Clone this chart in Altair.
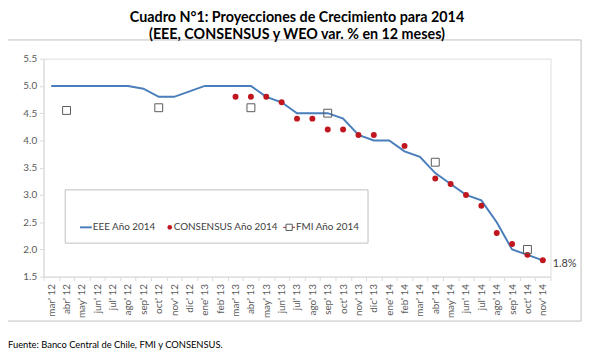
import altair as alt
import pandas as pd

months = ["mar' 12", "abr' 12", "may' 12", "jun' 12", "jul' 12", "ago' 12", "sep' 12", "oct' 12",
          "nov' 12", "dic' 12", "ene' 13", "feb' 13", "mar' 13", "abr' 13", "may' 13", "jun' 13",
          "jul' 13", "ago' 13", "sep' 13", "oct' 13", "nov' 13", "dic' 13", "ene' 14", "feb' 14",
          "mar' 14", "abr' 14", "may' 14", "jun' 14", "jul' 14", "ago' 14", "sep' 14", "oct' 14",
          "nov' 14"]
eee = [5.0, 5.0, 5.0, 5.0, 5.0, 5.0, 4.95, 4.8, 4.8, 4.9, 5.0, 5.0, 5.0, 5.0, 4.8, 4.7,
       4.5, 4.5, 4.5, 4.4, 4.1, 4.0, 4.0, 3.8, 3.7, 3.4, 3.2, 3.0, 2.9, 2.5, 2.0, 1.9, 1.8]

cons_months = ["mar' 13", "abr' 13", "may' 13", "jun' 13", "jul' 13", "ago' 13", "sep' 13",
               "oct' 13", "nov' 13", "dic' 13", "feb' 14", "abr' 14", "may' 14", "jun' 14",
               "jul' 14", "ago' 14", "sep' 14", "oct' 14", "nov' 14"]
cons = [4.8, 4.8, 4.8, 4.7, 4.4, 4.4, 4.2, 4.2, 4.1, 4.1, 3.9, 3.3, 3.2, 3.0, 2.8, 2.3, 2.1, 1.9, 1.8]

fmi_months = ["abr' 12", "oct' 12", "abr' 13", "sep' 13", "abr' 14", "oct' 14"]
fmi = [4.55, 4.6, 4.6, 4.5, 3.6, 2.0]

y_ticks = [1.5, 2.0, 2.5, 3.0, 3.5, 4.0, 4.5, 5.0, 5.5]

title_lines = ["Cuadro N°1: Proyecciones de Crecimiento para 2014",
               "(EEE, CONSENSUS y WEO var. % en 12 meses)"]
legend_labels = ["EEE Año 2014", "CONSENSUS Año 2014", "FMI Año 2014"]
source_text = "Fuente: Banco Central de Chile, FMI y CONSENSUS."

df_eee = pd.DataFrame({"mes": months, "valor": eee})
df_cons = pd.DataFrame({"mes": cons_months, "valor": cons})
df_fmi = pd.DataFrame({"mes": fmi_months, "valor": fmi})
df_last = df_eee.tail(1)

FONT = "Lato"
BLUE = "#4a7ebb"
RED = "#c0171f"
GRAY = "#595959"
BORDER = "#bfbfbf"

x_enc = alt.X("mes:N", sort=months,
              scale=alt.Scale(type="band", domain=months, paddingInner=0, paddingOuter=0),
              axis=alt.Axis(title=None, labelAngle=270, tickBand="extent", tickSize=4,
                            tickColor="#d9d9d9", domainColor="#d9d9d9", labelColor=GRAY,
                            labelFont=FONT, labelFontSize=10, labelPadding=3, grid=False))
y_enc = alt.Y("valor:Q",
              scale=alt.Scale(domain=[1.5, 5.5], nice=False, zero=False),
              axis=alt.Axis(title=None, values=y_ticks, format=".1f", tickSize=4,
                            tickColor="#d9d9d9", domainColor="#d9d9d9", labelColor=GRAY,
                            labelFont=FONT, labelFontSize=10, labelPadding=3, grid=False))

one = alt.Data(values=[{"a": 1}])

outer_box = alt.Chart(one).mark_rect(fill="white", fillOpacity=0, stroke=BORDER,
                                     strokeWidth=1).encode(
    x=alt.value(-37), x2=alt.value(545), y=alt.value(-19), y2=alt.value(266))

legend_box = alt.Chart(one).mark_rect(fill="white", stroke=BORDER, strokeWidth=1).encode(
    x=alt.value(22), x2=alt.value(329), y=alt.value(133), y2=alt.value(187))

line = alt.Chart(df_eee).mark_line(color=BLUE, strokeWidth=2).encode(x=x_enc, y=y_enc)

dots = alt.Chart(df_cons).mark_circle(color=RED, size=36, opacity=1).encode(x=x_enc, y=y_enc)

squares = alt.Chart(df_fmi).mark_point(shape="square", filled=False, stroke=GRAY,
                                        strokeWidth=1, size=64, opacity=1).encode(x=x_enc, y=y_enc)

last_pct = alt.Chart(df_last).transform_calculate(
    lab="format(datum.valor, '.1f') + '%'").mark_text(
    align="left", baseline="middle", dx=10, dy=4, font=FONT, fontSize=11, color="#404040").encode(
    x=x_enc, y=y_enc, text="lab:N")

LY = 171
leg_line = alt.Chart(one).mark_rule(color=BLUE, strokeWidth=2).encode(
    x=alt.value(37), x2=alt.value(49), y=alt.value(LY))
leg_text1 = alt.Chart(one).mark_text(align="left", baseline="middle", font=FONT, fontSize=10,
                                     color="#404040").encode(
    x=alt.value(50), y=alt.value(LY), text=alt.value(legend_labels[0]))
leg_dot = alt.Chart(one).mark_circle(color=RED, size=22, opacity=1).encode(
    x=alt.value(128), y=alt.value(LY))
leg_text2 = alt.Chart(one).mark_text(align="left", baseline="middle", font=FONT, fontSize=10,
                                     color="#404040").encode(
    x=alt.value(132), y=alt.value(LY), text=alt.value(legend_labels[1]))
leg_rule3 = alt.Chart(one).mark_rule(color="#a0282d", strokeWidth=1).encode(
    x=alt.value(243), x2=alt.value(255), y=alt.value(LY))
leg_sq = alt.Chart(one).mark_point(shape="square", filled=True, fill="white", stroke=GRAY,
                                   strokeWidth=1, size=40, opacity=1).encode(
    x=alt.value(249), y=alt.value(LY))
leg_text3 = alt.Chart(one).mark_text(align="left", baseline="middle", font=FONT, fontSize=10,
                                     color="#404040").encode(
    x=alt.value(256), y=alt.value(LY), text=alt.value(legend_labels[2]))

source = alt.Chart(one).mark_text(align="left", baseline="middle", font=FONT, fontSize=9.5,
                                  color="#000000").encode(
    x=alt.value(-36), y=alt.value(290), text=alt.value(source_text))

chart = alt.layer(
    outer_box, line, dots, squares, last_pct, legend_box,
    leg_line, leg_text1, leg_dot, leg_text2, leg_rule3, leg_sq, leg_text3, source
).properties(
    width=514, height=221,
    autosize=alt.AutoSizeParams(type="none"),
    padding={"left": 36, "top": 49, "right": 37, "bottom": 75},
    title=alt.TitleParams(text=title_lines, font=FONT, fontSize=14.5, fontWeight="bold",
                          color="#000000", anchor="middle", offset=-3, lineHeight=17),
).configure_view(stroke=None).configure(background="white")

chart.save("out.html", embed_options={"renderer": "svg", "actions": False})
